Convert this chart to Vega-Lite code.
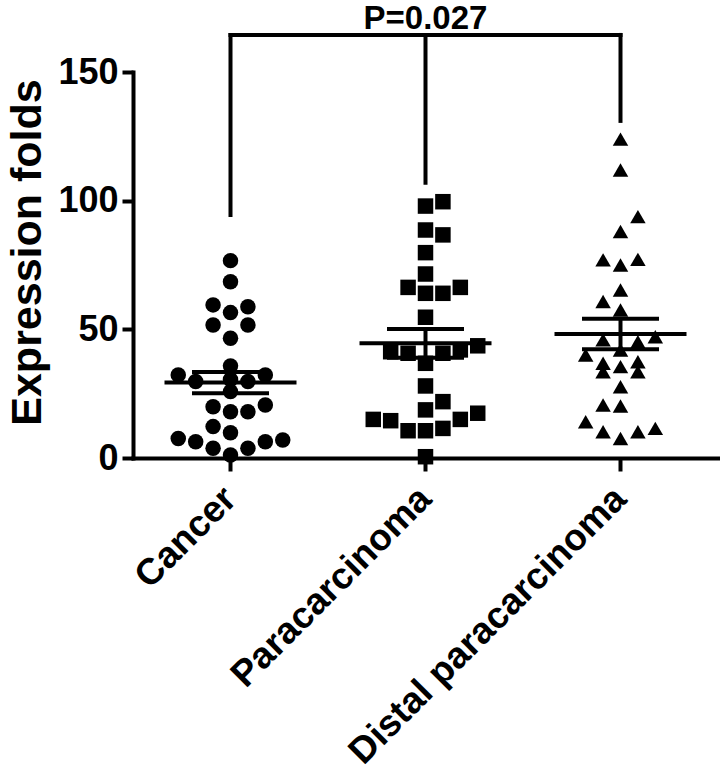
{
  "$schema": "https://vega.github.io/schema/vega-lite/v6.json",
  "autosize": {"type": "none"},
  "width": 585,
  "height": 386,
  "padding": {"left": 133, "top": 72, "right": 2, "bottom": 314},
  "background": "white",
  "config": {"view": {"stroke": null}, "font": "Liberation Sans"},
  "datasets": {
    "pts": [
      {"group": "Cancer", "value": 76.7, "slot": 0},
      {"group": "Cancer", "value": 68.5, "slot": 0},
      {"group": "Cancer", "value": 59.5, "slot": -1},
      {"group": "Cancer", "value": 58.8, "slot": 1},
      {"group": "Cancer", "value": 56.5, "slot": 0},
      {"group": "Cancer", "value": 51.7, "slot": -1},
      {"group": "Cancer", "value": 51.7, "slot": 1},
      {"group": "Cancer", "value": 46.5, "slot": 0},
      {"group": "Cancer", "value": 35.8, "slot": 0},
      {"group": "Cancer", "value": 32.3, "slot": -3},
      {"group": "Cancer", "value": 29.7, "slot": -2},
      {"group": "Cancer", "value": 30.5, "slot": 0},
      {"group": "Cancer", "value": 29.7, "slot": 1},
      {"group": "Cancer", "value": 32.3, "slot": 2},
      {"group": "Cancer", "value": 25.8, "slot": 0},
      {"group": "Cancer", "value": 19.9, "slot": -1},
      {"group": "Cancer", "value": 18.0, "slot": 0},
      {"group": "Cancer", "value": 18.0, "slot": 1},
      {"group": "Cancer", "value": 20.6, "slot": 2},
      {"group": "Cancer", "value": 12.2, "slot": -1},
      {"group": "Cancer", "value": 9.8, "slot": 0},
      {"group": "Cancer", "value": 7.6, "slot": -3},
      {"group": "Cancer", "value": 6.3, "slot": -2},
      {"group": "Cancer", "value": 3.8, "slot": -1},
      {"group": "Cancer", "value": 1.2, "slot": 0},
      {"group": "Cancer", "value": 3.8, "slot": 1},
      {"group": "Cancer", "value": 6.3, "slot": 2},
      {"group": "Cancer", "value": 7.0, "slot": 3},
      {"group": "Paracarcinoma", "value": 97.9, "slot": 0},
      {"group": "Paracarcinoma", "value": 99.6, "slot": 1},
      {"group": "Paracarcinoma", "value": 88.6, "slot": 0},
      {"group": "Paracarcinoma", "value": 86.7, "slot": 1},
      {"group": "Paracarcinoma", "value": 79.8, "slot": 0},
      {"group": "Paracarcinoma", "value": 71.5, "slot": 0},
      {"group": "Paracarcinoma", "value": 66.3, "slot": -1},
      {"group": "Paracarcinoma", "value": 64.0, "slot": 0},
      {"group": "Paracarcinoma", "value": 64.0, "slot": 1},
      {"group": "Paracarcinoma", "value": 66.3, "slot": 2},
      {"group": "Paracarcinoma", "value": 54.7, "slot": 0},
      {"group": "Paracarcinoma", "value": 41.3, "slot": -2},
      {"group": "Paracarcinoma", "value": 40.7, "slot": -1},
      {"group": "Paracarcinoma", "value": 40.7, "slot": 1},
      {"group": "Paracarcinoma", "value": 42.0, "slot": 2},
      {"group": "Paracarcinoma", "value": 43.6, "slot": 3},
      {"group": "Paracarcinoma", "value": 36.8, "slot": 0},
      {"group": "Paracarcinoma", "value": 28.0, "slot": 0},
      {"group": "Paracarcinoma", "value": 21.9, "slot": 1},
      {"group": "Paracarcinoma", "value": 18.7, "slot": 0},
      {"group": "Paracarcinoma", "value": 15.0, "slot": -3},
      {"group": "Paracarcinoma", "value": 14.5, "slot": -2},
      {"group": "Paracarcinoma", "value": 10.6, "slot": -1},
      {"group": "Paracarcinoma", "value": 10.6, "slot": 0},
      {"group": "Paracarcinoma", "value": 11.5, "slot": 1},
      {"group": "Paracarcinoma", "value": 15.0, "slot": 2},
      {"group": "Paracarcinoma", "value": 17.4, "slot": 3},
      {"group": "Paracarcinoma", "value": 0.5, "slot": 0},
      {"group": "Distal paracarcinoma", "value": 123.9, "slot": 0},
      {"group": "Distal paracarcinoma", "value": 111.9, "slot": 0},
      {"group": "Distal paracarcinoma", "value": 93.8, "slot": 1},
      {"group": "Distal paracarcinoma", "value": 88.0, "slot": 0},
      {"group": "Distal paracarcinoma", "value": 77.0, "slot": -1},
      {"group": "Distal paracarcinoma", "value": 75.0, "slot": 0},
      {"group": "Distal paracarcinoma", "value": 77.2, "slot": 1},
      {"group": "Distal paracarcinoma", "value": 65.3, "slot": 0},
      {"group": "Distal paracarcinoma", "value": 60.8, "slot": -1},
      {"group": "Distal paracarcinoma", "value": 57.5, "slot": 0},
      {"group": "Distal paracarcinoma", "value": 45.9, "slot": -1},
      {"group": "Distal paracarcinoma", "value": 45.2, "slot": 1},
      {"group": "Distal paracarcinoma", "value": 47.1, "slot": 2},
      {"group": "Distal paracarcinoma", "value": 42.0, "slot": 0},
      {"group": "Distal paracarcinoma", "value": 40.0, "slot": -2},
      {"group": "Distal paracarcinoma", "value": 36.8, "slot": -1},
      {"group": "Distal paracarcinoma", "value": 33.5, "slot": -1},
      {"group": "Distal paracarcinoma", "value": 35.5, "slot": 0},
      {"group": "Distal paracarcinoma", "value": 37.4, "slot": 1},
      {"group": "Distal paracarcinoma", "value": 33.5, "slot": 1},
      {"group": "Distal paracarcinoma", "value": 27.7, "slot": 0},
      {"group": "Distal paracarcinoma", "value": 20.6, "slot": -1},
      {"group": "Distal paracarcinoma", "value": 20.2, "slot": 0},
      {"group": "Distal paracarcinoma", "value": 14.1, "slot": -2},
      {"group": "Distal paracarcinoma", "value": 10.2, "slot": -1},
      {"group": "Distal paracarcinoma", "value": 7.6, "slot": 0},
      {"group": "Distal paracarcinoma", "value": 10.2, "slot": 1},
      {"group": "Distal paracarcinoma", "value": 11.5, "slot": 2}
    ],
    "bracket": [
      {"group": "Cancer", "lo": 94.4, "hi": 164.4},
      {"group": "Paracarcinoma", "lo": 107, "hi": 164.4},
      {"group": "Distal paracarcinoma", "lo": 131, "hi": 164.4}
    ],
    "span": [
      {"from": "Cancer", "to": "Distal paracarcinoma", "y": 164.4, "label": "P=0.027", "mid": "Paracarcinoma", "ty": 166.8}
    ]
  },
  "layer": [
    {
      "data": {"name": "pts"},
      "mark": {"type": "point", "filled": true, "opacity": 1, "size": 240, "color": "black", "strokeWidth": 0},
      "encoding": {
        "x": {
          "field": "group", "type": "nominal", "title": null,
          "scale": {"type": "band", "domain": ["Cancer", "Paracarcinoma", "Distal paracarcinoma"], "paddingInner": 0, "paddingOuter": 0},
          "axis": {
            "domainColor": "black", "domainWidth": 4, "domainCap": "square",
            "tickColor": "black", "tickWidth": 4, "tickSize": 13,
            "labelColor": "black", "labelFont": "Liberation Sans", "labelFontWeight": "bold", "labelFontSize": 37,
            "labelAngle": -45, "labelAlign": "right", "labelBaseline": "middle", "labelPadding": 22, "labelOverlap": false, "labelLimit": 0
          }
        },
        "xOffset": {"field": "slot", "type": "quantitative", "scale": {"domain": [-5.6, 5.6]}},
        "y": {
          "field": "value", "type": "quantitative", "title": "Expression folds",
          "scale": {"domain": [0, 150], "nice": false},
          "axis": {
            "values": [0, 50, 100, 150], "grid": false,
            "domainColor": "black", "domainWidth": 4, "domainCap": "square",
            "tickColor": "black", "tickWidth": 4, "tickSize": 11,
            "labelColor": "black", "labelFont": "Liberation Sans", "labelFontWeight": "bold", "labelFontSize": 36, "labelPadding": 4,
            "titleColor": "black", "titleFont": "Liberation Sans", "titleFontWeight": "bold", "titleFontSize": 43,
            "titleX": -93, "titleY": 180, "titleBaseline": "alphabetic"
          }
        },
        "shape": {
          "field": "group", "type": "nominal",
          "scale": {"domain": ["Cancer", "Paracarcinoma", "Distal paracarcinoma"], "range": ["circle", "square", "triangle-up"]},
          "legend": null
        }
      }
    },
    {
      "data": {"name": "pts"},
      "mark": {"type": "tick", "size": 132, "thickness": 4, "color": "black", "opacity": 1},
      "encoding": {
        "x": {"field": "group", "type": "nominal", "scale": {"type": "band"}},
        "y": {"aggregate": "mean", "field": "value", "type": "quantitative", "title": "Expression folds"}
      }
    },
    {
      "data": {"name": "pts"},
      "mark": {
        "type": "errorbar", "extent": "stderr", "size": 77, "thickness": 4, "color": "black",
        "ticks": {"color": "black", "opacity": 1},
        "rule": {"color": "black", "opacity": 1}
      },
      "encoding": {
        "x": {"field": "group", "type": "nominal", "scale": {"type": "band"}},
        "y": {"field": "value", "type": "quantitative", "title": "Expression folds"}
      }
    },
    {
      "data": {"name": "bracket"},
      "mark": {"type": "rule", "strokeWidth": 4, "color": "black", "strokeCap": "square"},
      "encoding": {
        "x": {"field": "group", "type": "nominal", "scale": {"type": "band"}},
        "y": {"field": "lo", "type": "quantitative", "title": "Expression folds"},
        "y2": {"field": "hi"}
      }
    },
    {
      "data": {"name": "span"},
      "mark": {"type": "rule", "strokeWidth": 4, "color": "black", "strokeCap": "square"},
      "encoding": {
        "x": {"field": "from", "type": "nominal", "scale": {"type": "band"}},
        "x2": {"field": "to"},
        "y": {"field": "y", "type": "quantitative", "title": "Expression folds"}
      }
    },
    {
      "data": {"name": "span"},
      "mark": {"type": "text", "font": "Liberation Sans", "fontWeight": "bold", "fontSize": 33, "color": "black", "baseline": "alphabetic", "align": "center"},
      "encoding": {
        "x": {"field": "mid", "type": "nominal", "scale": {"type": "band"}},
        "y": {"field": "ty", "type": "quantitative", "title": "Expression folds"},
        "text": {"field": "label"}
      }
    }
  ]
}
